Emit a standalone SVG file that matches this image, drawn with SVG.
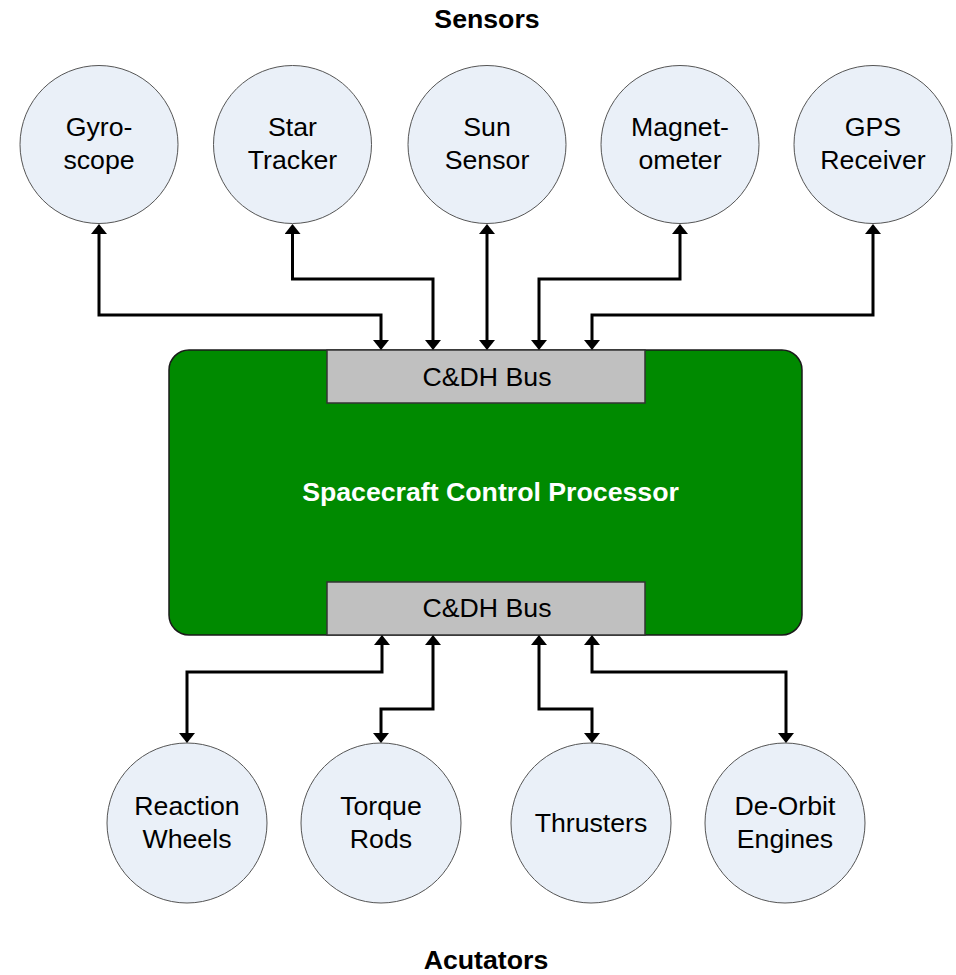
<svg xmlns="http://www.w3.org/2000/svg" width="956" height="975" viewBox="0 0 956 975">
  <style>
    .node circle { fill: #EAF0F8; stroke: #555555; stroke-width: 1; }
    .label { font-family: "Liberation Sans", Arial, sans-serif; font-size: 26.7px; fill: #000000; text-anchor: middle; }
    .title { font-family: "Liberation Sans", Arial, sans-serif; font-size: 26.7px; font-weight: bold; fill: #000000; text-anchor: middle; }
    .bus rect { fill: #C0C0C0; stroke: #333333; stroke-width: 1.5; }
    .wire { fill: none; stroke: #000000; stroke-width: 3; stroke-linejoin: miter; marker-start: url(#head); marker-end: url(#head); }
  </style>
  <defs>
    <marker id="head" markerUnits="userSpaceOnUse" markerWidth="10" markerHeight="16" viewBox="0 0 10 16" refX="0" refY="8" orient="auto-start-reverse">
      <path d="M0,0 L10,8 L0,16 z" fill="#000000"/>
    </marker>
  </defs>

  <rect width="956" height="975" fill="#FFFFFF"/>

  <!-- group headings -->
  <text class="title" x="487" y="28">Sensors</text>
  <text class="title" x="486" y="969">Acutators</text>

  <!-- processor with its two bus interfaces -->
  <g id="processor">
    <rect x="169" y="350" width="633" height="285" rx="20" ry="20" fill="#008A00" stroke="#1A1A1A" stroke-width="1.5"/>
    <text x="490.5" y="500.5" font-family="'Liberation Sans', Arial, sans-serif" font-size="26.7px" font-weight="bold" fill="#FFFFFF" text-anchor="middle">Spacecraft Control Processor</text>
  </g>
  <g id="bus-top" class="bus">
    <rect x="327" y="350" width="318" height="53"/>
    <text class="label" x="487" y="386">C&amp;DH Bus</text>
  </g>
  <g id="bus-bottom" class="bus">
    <rect x="327" y="582" width="318" height="53"/>
    <text class="label" x="487" y="617">C&amp;DH Bus</text>
  </g>

  <!-- sensors -->
  <g id="gyroscope" class="node">
    <circle cx="99" cy="144.5" r="79"/>
    <text class="label" x="99" y="136">Gyro-</text>
    <text class="label" x="99" y="168.5">scope</text>
  </g>
  <g id="star-tracker" class="node">
    <circle cx="292.5" cy="144.5" r="79"/>
    <text class="label" x="292.5" y="136">Star</text>
    <text class="label" x="292.5" y="168.5">Tracker</text>
  </g>
  <g id="sun-sensor" class="node">
    <circle cx="487" cy="144.5" r="79"/>
    <text class="label" x="487" y="136">Sun</text>
    <text class="label" x="487" y="168.5">Sensor</text>
  </g>
  <g id="magnetometer" class="node">
    <circle cx="680" cy="144.5" r="79"/>
    <text class="label" x="680" y="136">Magnet-</text>
    <text class="label" x="680" y="168.5">ometer</text>
  </g>
  <g id="gps-receiver" class="node">
    <circle cx="873" cy="144.5" r="79"/>
    <text class="label" x="873" y="136">GPS</text>
    <text class="label" x="873" y="168.5">Receiver</text>
  </g>

  <!-- actuators -->
  <g id="reaction-wheels" class="node">
    <circle cx="187" cy="823" r="80"/>
    <text class="label" x="187" y="815">Reaction</text>
    <text class="label" x="187" y="847.5">Wheels</text>
  </g>
  <g id="torque-rods" class="node">
    <circle cx="381" cy="823" r="80"/>
    <text class="label" x="381" y="815">Torque</text>
    <text class="label" x="381" y="847.5">Rods</text>
  </g>
  <g id="thrusters" class="node">
    <circle cx="591" cy="823" r="80"/>
    <text class="label" x="591" y="832">Thrusters</text>
  </g>
  <g id="de-orbit-engines" class="node">
    <circle cx="785" cy="823" r="80"/>
    <text class="label" x="785" y="815">De-Orbit</text>
    <text class="label" x="785" y="847.5">Engines</text>
  </g>

  <!-- bidirectional links between devices and the buses -->
  <g id="connectors">
    <path class="wire" d="M99,234 V315 H381 V340"/>
    <path class="wire" d="M292.5,234 V279 H433 V340"/>
    <path class="wire" d="M487,234 V340"/>
    <path class="wire" d="M680,234 V279 H539 V340"/>
    <path class="wire" d="M873,234 V315 H592 V340"/>

    <path class="wire" d="M382,645 V672 H187 V733"/>
    <path class="wire" d="M433,645 V709 H381 V733"/>
    <path class="wire" d="M539,645 V709 H592 V733"/>
    <path class="wire" d="M592,645 V672 H786 V733"/>
  </g>
</svg>
